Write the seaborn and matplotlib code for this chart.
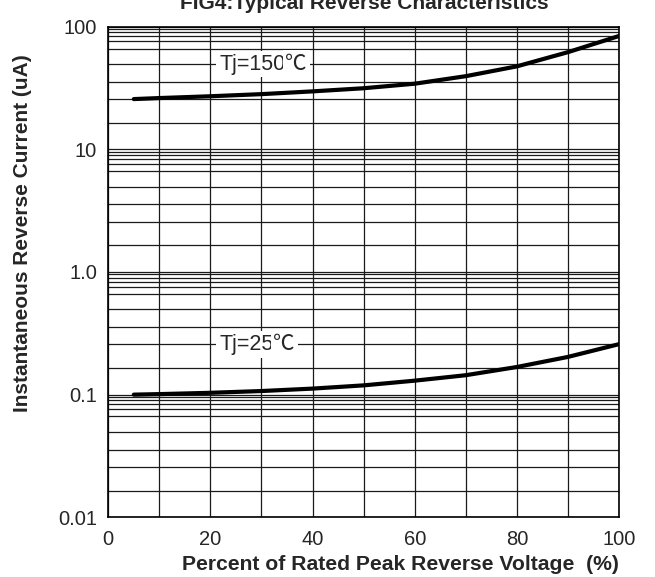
#FIG4: typical reverse characteristics, leakage current vs percent of rated voltage

import numpy as np
import pandas as pd
import matplotlib
matplotlib.use('Agg')
import matplotlib.pyplot as plt
from matplotlib.ticker import FixedLocator, NullFormatter
import seaborn as sns

#values
pct = [5, 10, 20, 30, 40, 50, 60, 70, 80, 90, 100]
i_150 = [25.7, 26.2, 27.1, 28.2, 29.7, 31.5, 34.3, 39.5, 47.5, 62, 84]
i_25 = [0.100, 0.101, 0.1035, 0.107, 0.112, 0.119, 0.130, 0.144, 0.168, 0.203, 0.258]

#tick labels and the (uneven) minor grid of the original paper
y_ticks = [0.01, 0.1, 1, 10, 100]
y_labels = ['0.01', '0.1', '1.0', '10', '100']
x_ticks = [0, 20, 40, 60, 80, 100]
grid_mantissa = [1.65, 2.57, 3.57, 4.95, 6.64, 7.59, 8.36, 8.99, 9.55]

sns.set_style('white')
plt.rcParams['font.family'] = ['Liberation Sans', 'Noto Sans CJK SC', 'DejaVu Sans']

df = pd.concat([
    pd.DataFrame({'pct': pct, 'current': i_150, 'Tj': '150'}),
    pd.DataFrame({'pct': pct, 'current': i_25, 'Tj': '25'}),
])

fig = plt.figure(figsize=(6.55, 5.77), dpi=100)
ax = fig.add_axes([0.1653, 0.1035, 0.7797, 0.8502])

sns.lineplot(data=df, x='pct', y='current', units='Tj', estimator=None,
             color='black', linewidth=3, ax=ax, zorder=5)

ax.set_yscale('log')
ax.set_xlim(0, 100)
ax.set_ylim(0.01, 100)

#grid: every 10 % and the minor lines of each decade
minor_y = [m * d for d in [0.01, 0.1, 1, 10] for m in grid_mantissa]
ax.yaxis.set_major_locator(FixedLocator(y_ticks))
ax.set_yticklabels(y_labels)
ax.yaxis.set_minor_locator(FixedLocator(minor_y))
ax.yaxis.set_minor_formatter(NullFormatter())
ax.set_xticks(x_ticks)
ax.xaxis.set_minor_locator(FixedLocator(list(range(10, 100, 20))))
ax.grid(True, which='both', color='#1a1a1a', linewidth=0.9)
ax.set_axisbelow(True)
ax.tick_params(which='both', length=0, labelsize=14.5)
ax.tick_params(axis='y', pad=8)
ax.tick_params(axis='x', pad=9)
for s in ax.spines.values():
    s.set_color('black')
    s.set_linewidth(1.2)

#curve labels sit on a grid line with a white box, the degree sign in a CJK face
box = dict(facecolor='white', edgecolor='none', pad=2)
for xl, yl, txt in [(21.7, 49.5, 'Tj=150'), (21.7, 0.257, 'Tj=25')]:
    t = ax.text(xl, yl, txt, fontsize=15.5, ha='left', va='center', bbox=box, zorder=6,
                family=['Liberation Sans'])
    ax.annotate('℃', xy=(1, 0.5), xycoords=t, fontsize=15.5, ha='left', va='center',
                family=['Noto Sans CJK SC'], bbox=box, zorder=6)

ax.set_xlabel('')
ax.set_ylabel('')
fig.text(0.611, 0.0115, 'Percent of Rated Peak Reverse Voltage  (%)', fontsize=15.2,
         fontweight='bold', ha='center', va='baseline')
fig.text(0.035, 0.596, 'Instantaneous Reverse Current (uA)', fontsize=15,
         fontweight='bold', ha='center', va='center', rotation=90)
fig.text(0.556, 0.9844, 'FIG4:Typical Reverse Characteristics', fontsize=15,
         fontweight='bold', ha='center', va='baseline')

#save the figure
fig.savefig('out.png', dpi=100)
